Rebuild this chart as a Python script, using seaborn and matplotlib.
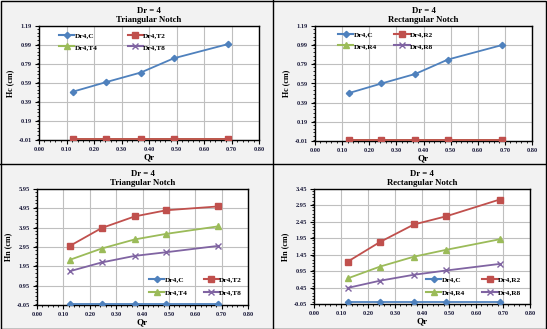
import numpy as np
import pandas as pd
import matplotlib
matplotlib.use("Agg")
import matplotlib.pyplot as plt
from matplotlib.ticker import MultipleLocator, FixedLocator
from matplotlib.lines import Line2D
import seaborn as sns

# ---------------- data ----------------
qr = [0.125, 0.245, 0.37, 0.49, 0.688]
x_ticks = [0.0, 0.1, 0.2, 0.3, 0.4, 0.5, 0.6, 0.7, 0.8]

hc_tri_C = [0.50, 0.60, 0.70, 0.85, 1.00]
hc_tri_T2 = [0.0, 0.0, 0.0, 0.0, 0.0]
hc_tri_T4 = [0.0, 0.0, 0.0, 0.0, 0.0]
hc_tri_T8 = [0.0, 0.0, 0.0, 0.0, 0.0]

hc_rec_C = [0.49, 0.59, 0.69, 0.84, 0.99]
hc_rec_R2 = [0.0, 0.0, 0.0, 0.0, 0.0]
hc_rec_R4 = [0.0, 0.0, 0.0, 0.0, 0.0]
hc_rec_R8 = [0.0, 0.0, 0.0, 0.0, 0.0]

hn_tri_C = [0.0, 0.0, 0.0, 0.0, 0.0]
hn_tri_T2 = [3.01, 3.93, 4.53, 4.85, 5.05]
hn_tri_T4 = [2.29, 2.87, 3.34, 3.63, 4.02]
hn_tri_T8 = [1.70, 2.15, 2.49, 2.68, 3.01]

hn_rec_C = [0.0, 0.0, 0.0, 0.0, 0.0]
hn_rec_R2 = [1.24, 1.84, 2.37, 2.62, 3.13]
hn_rec_R4 = [0.73, 1.09, 1.39, 1.60, 1.92]
hn_rec_R8 = [0.44, 0.66, 0.84, 0.97, 1.17]

tri_names = ["Dr4,C", "Dr4,T2", "Dr4,T4", "Dr4,T8"]
rec_names = ["Dr4,C", "Dr4,R2", "Dr4,R4", "Dr4,R8"]

colors = ["#4F81BD", "#C0504D", "#9BBB59", "#8064A2"]
markers = ["D", "s", "^", "x"]
msizes = [3.2, 4.2, 4.2, 4.5]

W, H = 547, 329
fig = plt.figure(figsize=(W / 100, H / 100), dpi=100)
fig.patch.set_facecolor("#F2F2F2")

serif = ["Liberation Serif", "DejaVu Serif"]
plt.rcParams["font.family"] = serif
plt.rcParams["font.weight"] = "bold"

LEG_FS = 5.3


def px_axes(l, r, t, b):
    return fig.add_axes([l / W, 1 - b / H, (r - l) / W, (b - t) / H])


def make_panel(rect, title, ylabel, series, names, ylim, ymajor, yminor,
               leg_x, leg_y, colspace, labspace):
    ax = px_axes(*rect)
    rows = []
    for name, vals in zip(names, series):
        for q, v in zip(qr, vals):
            rows.append({"Qr": q, "val": v, "series": name})
    df = pd.DataFrame(rows)
    for i, name in enumerate(names):
        sub = df[df["series"] == name]
        sns.lineplot(data=sub, x="Qr", y="val", ax=ax, color=colors[i],
                     marker=markers[i], markersize=msizes[i], lw=1.3,
                     markeredgecolor=colors[i], markeredgewidth=1.0,
                     legend=False, zorder=3 + (3 - i) * 0.1)
    ax.set_xlim(0, 0.8)
    ax.set_ylim(*ylim)
    ax.xaxis.set_major_locator(FixedLocator(x_ticks))
    ax.xaxis.set_minor_locator(MultipleLocator(0.02))
    yt = list(np.round(np.arange(ylim[0], ylim[1] + 1e-6, ymajor), 2))
    ax.yaxis.set_major_locator(FixedLocator(yt))
    ax.yaxis.set_minor_locator(MultipleLocator(yminor))
    ax.set_xticklabels([f"{v:.2f}" for v in x_ticks])
    ax.set_yticklabels([f"{v:.2f}" for v in yt])
    ax.grid(True, which="major", color="#BFBFBF", lw=0.8)
    ax.set_axisbelow(True)
    ax.tick_params(which="major", direction="out", length=3, width=0.8,
                   labelsize=4.6, pad=2, colors="black", labelcolor="#1A1A3A")
    ax.tick_params(which="minor", direction="out", length=1.6, width=0.6)
    for s in ax.spines.values():
        s.set_color("black")
        s.set_linewidth(1.0)
    ax.set_facecolor("white")
    for lab in ax.get_xticklabels() + ax.get_yticklabels():
        lab.set_fontweight("bold")
    ax.set_xlabel("Qr", fontsize=6.5, fontweight="bold", labelpad=1)
    ax.set_ylabel(ylabel, fontsize=5.8, fontweight="bold", labelpad=3)
    ax.set_title(title, fontsize=6.3, fontweight="bold", pad=3,
                 linespacing=1.15)
    handles = [Line2D([0], [0], color=colors[i], marker=markers[i],
                      markersize=msizes[i], lw=1.5,
                      markeredgecolor=colors[i]) for i in range(4)]
    order = [0, 2, 1, 3]
    ax.legend([handles[k] for k in order], [names[k] for k in order],
              ncol=2, frameon=False,
              loc="upper left",
              bbox_to_anchor=(leg_x / W, 1 - (leg_y - 2.0) / H),
              bbox_transform=fig.transFigure,
              prop={"size": LEG_FS, "weight": "bold", "family": serif},
              handlelength=2.1, columnspacing=colspace,
              labelspacing=labspace, handletextpad=0.0, borderpad=0.0,
              borderaxespad=0.0)
    return ax


make_panel((39, 259, 26, 140), "Dr = 4\nTriangular Notch", "Hc (cm)",
           [hc_tri_C, hc_tri_T2, hc_tri_T4, hc_tri_T8], tri_names,
           (-0.01, 1.19), 0.2, 0.04, 59, 34, 4.1, 0.75)
make_panel((315, 532, 26, 141), "Dr = 4\nRectangular Notch", "Hc (cm)",
           [hc_rec_C, hc_rec_R2, hc_rec_R4, hc_rec_R8], rec_names,
           (-0.01, 1.19), 0.2, 0.04, 338, 33, 2.4, 0.75)
make_panel((37, 248, 189, 305), "Dr = 4\nTriangular Notch", "Hn (cm)",
           [hn_tri_C, hn_tri_T2, hn_tri_T4, hn_tri_T8], tri_names,
           (-0.05, 5.95), 1.0, 0.2, 149, 278, 2.2, 0.98)
make_panel((314, 530, 189, 304), "Dr = 4\nRectangular Notch", "Hn (cm)",
           [hn_rec_C, hn_rec_R2, hn_rec_R4, hn_rec_R8], rec_names,
           (-0.05, 3.45), 0.5, 0.1, 426, 278, 2.4, 0.98)

# panel borders
x = 273 / W
fig.add_artist(Line2D([x, x], [0, 1], color="black", lw=1.0,
                      transform=fig.transFigure))
y = 1 - 164 / H
fig.add_artist(Line2D([0, 1], [y, y], color="black", lw=1.0,
                      transform=fig.transFigure))
fig.add_artist(plt.Rectangle((0.5 / W, 0.5 / H), 1 - 1.5 / W, 1 - 1.5 / H,
                             fill=False, edgecolor="black", lw=1.0,
                             transform=fig.transFigure))

fig.savefig("out.png", dpi=100, facecolor=fig.get_facecolor())
